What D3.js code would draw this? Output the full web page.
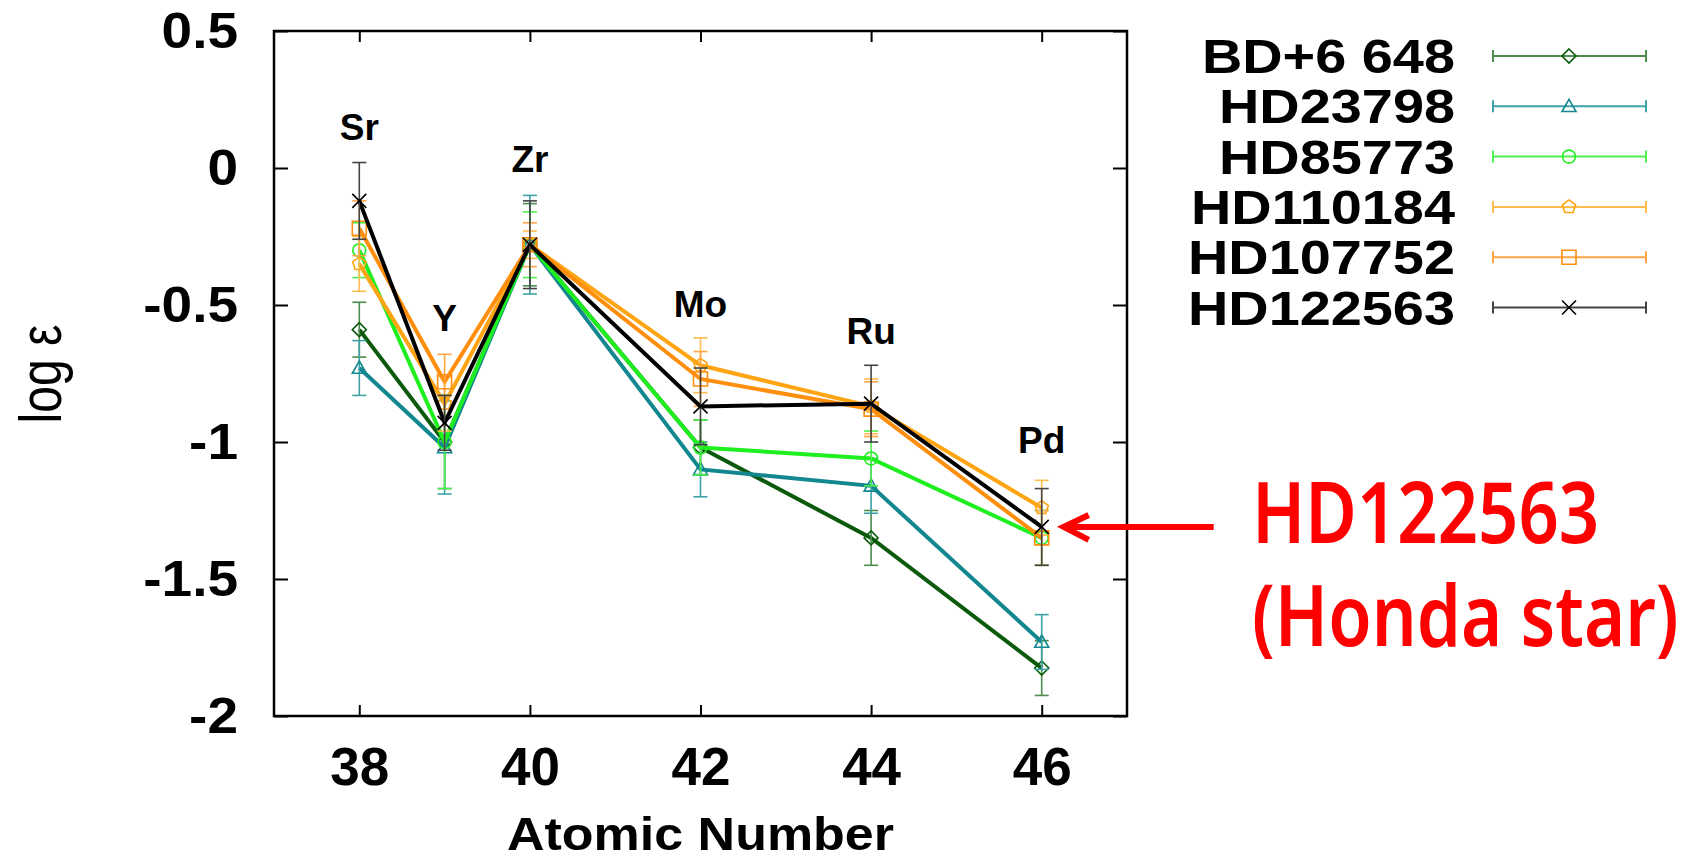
<!DOCTYPE html>
<html>
<head>
<meta charset="utf-8">
<script src="https://cdn.jsdelivr.net/npm/d3@7"></script>
<style>
  body { margin: 0; background: #fff; }
  svg { display: block; }
</style>
</head>
<body>
<div class="chart"></div>
<script>
// chart values
var atomicNumbers = [38, 39, 40, 42, 44, 46];
var elements = ["Sr", "Y", "Zr", "Mo", "Ru", "Pd"];
var elementLabelY = [0.102, -0.595, -0.015, -0.544, -0.642, -1.04];

var stars = ["BD+6 648", "HD23798", "HD85773", "HD110184", "HD107752", "HD122563"];
var bd6648   = [-0.59, -1.00, -0.28, -1.02, -1.35, -1.825];
var hd23798  = [-0.73, -1.02, -0.28, -1.10, -1.16, -1.73];
var hd85773  = [-0.30, -1.00, -0.28, -1.02, -1.06, -1.35];
var hd110184 = [-0.35, -0.86, -0.28, -0.72, -0.87, -1.24];
var hd107752 = [-0.22, -0.78, -0.28, -0.77, -0.88, -1.35];
var hd122563 = [-0.12, -0.93, -0.28, -0.87, -0.86, -1.31];

var bd6648Err   = [0.10, 0.17, 0.15, 0.10, 0.10, 0.10];
var hd23798Err  = [0.10, 0.17, 0.18, 0.10, 0.10, 0.10];
var hd85773Err  = [0.10, 0.17, 0.12, 0.10, 0.10, 0.10];
var hd110184Err = [0.10, 0.10, 0.05, 0.10, 0.10, 0.10];
var hd107752Err = [0.10, 0.10, 0.08, 0.10, 0.10, 0.10];
var hd122563Err = [0.14, 0.10, 0.16, 0.14, 0.14, 0.14];

var xTicks = [38, 40, 42, 44, 46];
var yTicks = [0.5, 0, -0.5, -1, -1.5, -2];

var svgWidth = 1696;
var svgHeight = 862;

var margin = {
  top: 31,
  right: 569,
  bottom: 146,
  left: 274
};

var width = svgWidth - margin.left - margin.right;
var height = svgHeight - margin.top - margin.bottom;

var lineColors = ["#0b5a0b", "#13878f", "#1fee1f", "#ffa514", "#ff8e0c", "#000000"];
var errColors  = ["#4d8d4d", "#3ea2a8", "#4ef04e", "#ffbc4f", "#ffa545", "#444444"];
var shapes = ["diamond", "triangle", "circle", "pentagon", "square", "times"];

var seriesValues = [bd6648, hd23798, hd85773, hd110184, hd107752, hd122563];
var seriesErrors = [bd6648Err, hd23798Err, hd85773Err, hd110184Err, hd107752Err, hd122563Err];

var series = stars.map(function(name, i) {
  return {
    name: name,
    color: lineColors[i],
    errColor: errColors[i],
    shape: shapes[i],
    points: atomicNumbers.map(function(z, j) {
      return { z: z, v: seriesValues[i][j], e: seriesErrors[i][j] };
    })
  };
});

var svg = d3.select(".chart")
  .append("svg")
  .attr("width", svgWidth)
  .attr("height", svgHeight);

var chartGroup = svg.append("g")
  .attr("transform", `translate(${margin.left}, ${margin.top})`);

var xScale = d3.scaleLinear().domain([37, 47]).range([0, width]);
var yScale = d3.scaleLinear().domain([-2, 0.5]).range([height, 0]);

// open marker shapes, h = half size
function markerPath(shape, h) {
  if (shape === "diamond") return `M0,${-h}L${h},0L0,${h}L${-h},0Z`;
  if (shape === "triangle") return `M0,${-h}L${h},${h * 0.75}L${-h},${h * 0.75}Z`;
  if (shape === "square") return `M${-h},${-h}H${h}V${h}H${-h}Z`;
  if (shape === "times") return `M${-h},${-h}L${h},${h}M${-h},${h}L${h},${-h}`;
  if (shape === "circle") return `M${h},0A${h},${h} 0 1,1 ${-h},0A${h},${h} 0 1,1 ${h},0Z`;
  var pts = d3.range(5).map(function(k) {
    var a = -Math.PI / 2 + k * 2 * Math.PI / 5;
    return [h * Math.cos(a), h * Math.sin(a)];
  });
  return "M" + pts.join("L") + "Z";
}

function stretchedText(parent, x, y, str, size, sx, anchor, weight, family) {
  return parent.append("text")
    .attr("transform", `translate(${x},${y}) scale(${sx},1)`)
    .attr("text-anchor", anchor)
    .style("font-family", family || "'Liberation Sans', Arial, sans-serif")
    .style("font-weight", weight)
    .style("font-size", size + "px")
    .text(str);
}

// axes: inward ticks on all four sides
var leftAxis = d3.axisLeft(yScale).tickValues(yTicks).tickSize(-14).tickPadding(36)
  .tickFormat(function(d) { return String(d); });
var rightAxis = d3.axisRight(yScale).tickValues(yTicks).tickSize(-14).tickFormat("");
var bottomAxis = d3.axisBottom(xScale).tickValues(xTicks).tickSize(-11).tickPadding(31)
  .tickFormat(function(d) { return String(d); });
var topAxis = d3.axisTop(xScale).tickValues(xTicks).tickSize(-11).tickFormat("");

var gl = chartGroup.append("g").call(leftAxis);
chartGroup.append("g").attr("transform", `translate(${width},0)`).call(rightAxis);
var gb = chartGroup.append("g").attr("transform", `translate(0,${height})`).call(bottomAxis);
chartGroup.append("g").call(topAxis);

chartGroup.selectAll(".domain").remove();
chartGroup.selectAll(".tick line").attr("stroke", "#000").attr("stroke-width", 2);

gl.selectAll(".tick text")
  .attr("x", -36 / 1.1)
  .attr("transform", "scale(1.1,1)")
  .attr("fill", "#000")
  .style("font-family", "'Liberation Sans', Arial, sans-serif")
  .style("font-weight", "bold")
  .style("font-size", "50px");

gb.selectAll(".tick text")
  .attr("fill", "#000")
  .style("font-family", "'Liberation Sans', Arial, sans-serif")
  .style("font-weight", "bold")
  .style("font-size", "53px");

// frame
chartGroup.append("rect")
  .attr("width", width)
  .attr("height", height)
  .attr("fill", "none")
  .attr("stroke", "#000")
  .attr("stroke-width", 2.5);

// element labels
elements.forEach(function(el, i) {
  stretchedText(chartGroup, xScale(atomicNumbers[i]), yScale(elementLabelY[i]), el, 37, 1, "middle", "bold");
});

// series
var line = d3.line()
  .x(function(d) { return xScale(d.z); })
  .y(function(d) { return yScale(d.v); });

series.forEach(function(s) {
  var g = chartGroup.append("g");

  g.append("path")
    .datum(s.points)
    .attr("d", line)
    .attr("fill", "none")
    .attr("stroke", s.color)
    .attr("stroke-width", 4)
    .attr("stroke-linejoin", "miter");

  var eb = g.selectAll(".err").data(s.points).enter().append("g")
    .attr("stroke", s.errColor)
    .attr("stroke-width", 1.6)
    .attr("fill", "none");
  eb.append("line")
    .attr("x1", function(d) { return xScale(d.z); })
    .attr("x2", function(d) { return xScale(d.z); })
    .attr("y1", function(d) { return yScale(d.v + d.e); })
    .attr("y2", function(d) { return yScale(d.v - d.e); });
  [1, -1].forEach(function(sign) {
    eb.append("line")
      .attr("x1", function(d) { return xScale(d.z) - 7; })
      .attr("x2", function(d) { return xScale(d.z) + 7; })
      .attr("y1", function(d) { return yScale(d.v + sign * d.e); })
      .attr("y2", function(d) { return yScale(d.v + sign * d.e); });
  });

  g.selectAll(".mk").data(s.points).enter().append("path")
    .attr("transform", function(d) { return `translate(${xScale(d.z)},${yScale(d.v)})`; })
    .attr("d", markerPath(s.shape, s.shape === "circle" ? 6.5 : 7))
    .attr("fill", "none")
    .attr("stroke", s.color)
    .attr("stroke-width", 1.6);
});

// axis titles
stretchedText(svg, margin.left + xScale(42), 850, "Atomic Number", 46, 1.13, "middle", "bold");
svg.append("text")
  .attr("transform", "translate(40,374) scale(1.25,1) rotate(-90)")
  .attr("text-anchor", "middle")
  .attr("dy", "0.35em")
  .style("font-family", "'Liberation Sans', Arial, sans-serif")
  .style("font-size", "48px")
  .text("log ε");

// legend
var legend = svg.append("g");
series.forEach(function(s, i) {
  var ry = 56 + i * 50.3;
  stretchedText(legend, 1455, ry + 17, s.name, 49, 1.14, "end", "bold");
  legend.append("path")
    .attr("d", `M1493,${ry}H1646M1493,${ry - 6}V${ry + 6}M1646,${ry - 6}V${ry + 6}`)
    .attr("fill", "none")
    .attr("stroke", s.errColor)
    .attr("stroke-width", 2);
  legend.append("path")
    .attr("transform", `translate(1569,${ry})`)
    .attr("d", markerPath(s.shape, s.shape === "circle" ? 6.5 : 7))
    .attr("fill", "none")
    .attr("stroke", s.color)
    .attr("stroke-width", 1.6);
});

// annotation pointing at the Honda star
var honda = series[5].points[5];
var tipX = margin.left + xScale(honda.z) + 22;
var tipY = margin.top + yScale(honda.v);
var note = svg.append("g").attr("stroke", "#ff0000").attr("stroke-width", 6).attr("fill", "none");
note.append("line").attr("x1", tipX + 150).attr("x2", tipX + 2).attr("y1", tipY).attr("y2", tipY);
note.append("polyline")
  .attr("points", `${tipX + 25},${tipY - 12} ${tipX},${tipY} ${tipX + 25},${tipY + 13}`);

stretchedText(svg, 1252, 543, "HD122563", 84, 0.84, "start", 600, "'Noto Sans', sans-serif").attr("fill", "#ff0000");
stretchedText(svg, 1252, 646, "(Honda star)", 84, 0.84, "start", 600, "'Noto Sans', sans-serif").attr("fill", "#ff0000");
</script>
</body>
</html>
